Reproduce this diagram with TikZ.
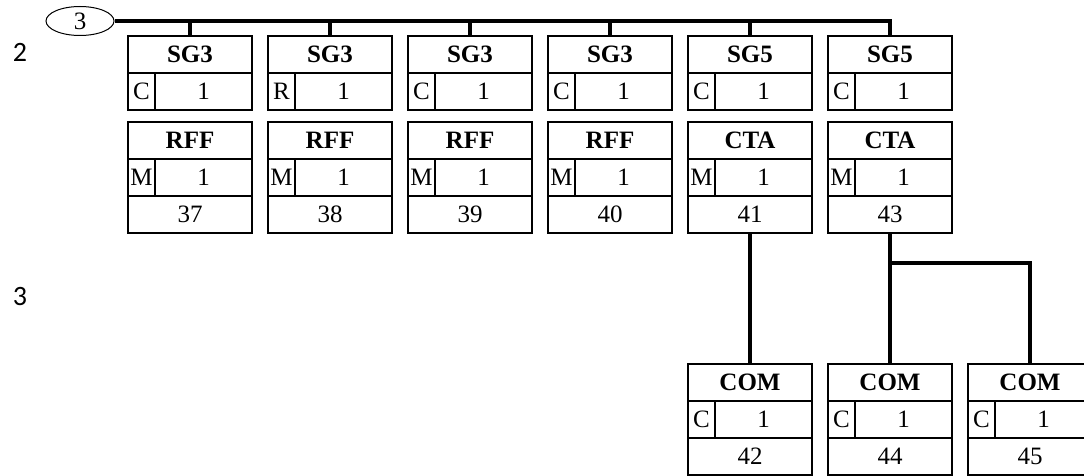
\documentclass[tikz,border=0pt]{standalone}
\usepackage{fontspec}
\setmainfont{Liberation Serif}
\newfontfamily\lvlfont{Carlito}
\usetikzlibrary{shapes.geometric}

\begin{document}
\begin{tikzpicture}[
							x=1pt,
							y=-1pt,
							font=\fontsize{25}{30}\selectfont,
							cell/.style={draw, line width=2.2pt, inner sep=0pt, outer sep=0pt, minimum height=37pt, anchor=north west},
							wide/.style={cell, minimum width=124pt},
							tag/.style={cell, minimum width=27pt},
							rest/.style={cell, minimum width=97pt},
							link/.style={line width=3.4pt},
							lvl/.style={font=\lvlfont\fontsize{28}{32}\selectfont}
						]
						\useasboundingbox (0,0) rectangle (1084,476);
						\node[lvl] (lvl2) at (20,52) {2};
						\node[lvl] (lvl3) at (20,297) {3};
						\node[ellipse, draw, line width=1pt, minimum width=68pt, minimum height=29pt, inner sep=0pt] (grp) at (80,21) {3};
						\foreach \i/\lab/\st [evaluate=\i as \x using 128+140*(\i-1)] in {1/SG3/C, 2/SG3/R, 3/SG3/C, 4/SG3/C, 5/SG5/C, 6/SG5/C} {
							\node[wide] (sg\i-h) at (\x,36) {\bfseries\lab};
							\node[tag] (sg\i-s) at (sg\i-h.south west) {\st};
							\node[rest] (sg\i-r) at (sg\i-s.north east) {1};
						}
						\foreach \i/\lab/\num [evaluate=\i as \x using 128+140*(\i-1)] in {1/RFF/37, 2/RFF/38, 3/RFF/39, 4/RFF/40, 5/CTA/41, 6/CTA/43} {
							\node[wide] (seg\i-h) at (\x,122) {\bfseries\lab};
							\node[tag] (seg\i-s) at (seg\i-h.south west) {M};
							\node[rest] (seg\i-r) at (seg\i-s.north east) {1};
							\node[wide] (seg\i-n) at (seg\i-s.south west) {\num};
						}
						\foreach \i/\num [evaluate=\i as \x using 128+140*(\i-1)] in {5/42, 6/44, 7/45} {
							\node[wide] (com\i-h) at (\x,364) {\bfseries COM};
							\node[tag] (com\i-s) at (com\i-h.south west) {C};
							\node[rest] (com\i-r) at (com\i-s.north east) {1};
							\node[wide] (com\i-n) at (com\i-s.south west) {\num};
						}
						\draw[link] (grp.east) -- (sg6-h.north |- grp.east) -- (sg6-h.north);
						\foreach \i in {1,...,5}
							\draw[link] (sg\i-h.north |- grp.east) -- (sg\i-h.north);
						\draw[link] (seg5-n.south) -- (com5-h.north);
						\draw[link] (seg6-n.south) -- (com6-h.north);
						\path (seg6-n.south) ++(0,30) coordinate (fork);
						\draw[link] (fork) -| (com7-h.north);
					\end{tikzpicture}
\end{document}
